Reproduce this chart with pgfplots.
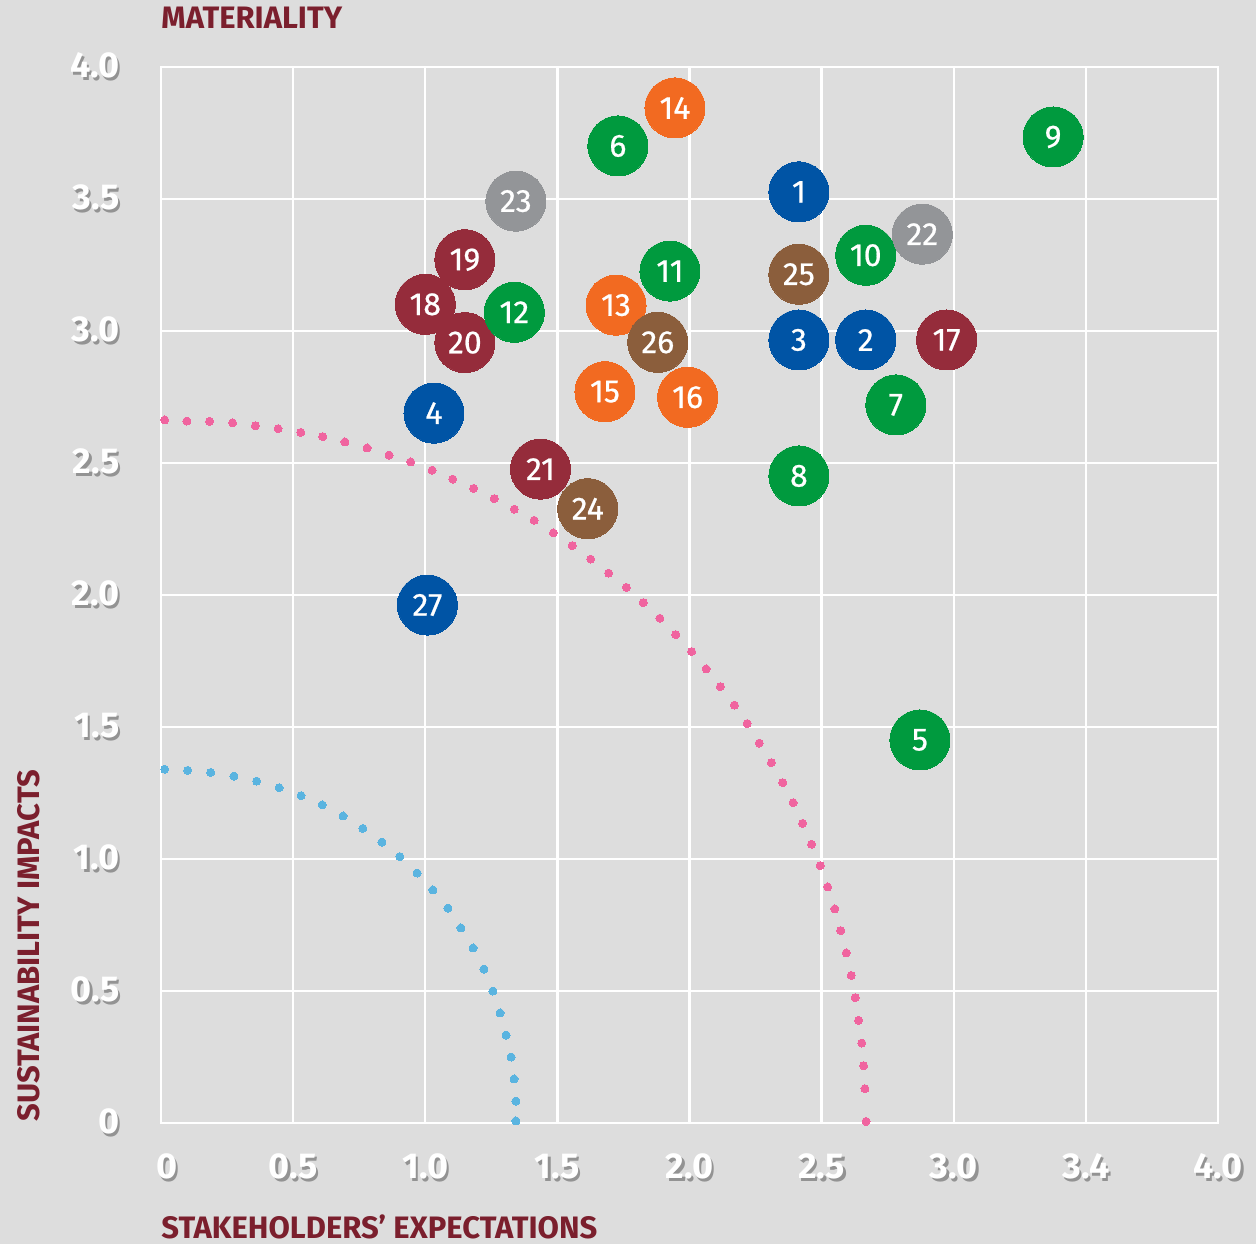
\documentclass[border=0pt]{standalone}
\usepackage{pgfplots}
\pgfplotsset{compat=1.18}
\usepackage{fontspec}
\setmainfont{Fira Sans}
\newfontfamily\medfont[FakeBold=0.6]{Fira Sans}
\definecolor{bg}{HTML}{DDDDDD}
\definecolor{tshadow}{HTML}{939393}
\definecolor{titlered}{HTML}{7B1F2D}
\definecolor{cgreen}{HTML}{009A3E}
\definecolor{cblue}{HTML}{0054A5}
\definecolor{corange}{HTML}{F26A21}
\definecolor{cgray}{HTML}{939598}
\definecolor{cred}{HTML}{952C3B}
\definecolor{cbrown}{HTML}{8B5E3C}
\definecolor{cpink}{HTML}{F0649F}
\definecolor{clblue}{HTML}{5AB4E0}
\newcommand\sh[1]{\makebox[0pt][l]{\kern1.2pt\raisebox{-1.4pt}{\textcolor{tshadow}{#1}}}\textcolor{white}{#1}}
\pgfplotsset{
  bubble/.style={color=#1, only marks, mark=*, mark size=15pt,
    mark options={draw=#1, fill=#1, line width=0pt},
    nodes near coords, point meta=explicit symbolic,
    every node near coord/.append style={anchor=center, text=white, inner sep=0pt,
      font=\medfont\fontsize{16}{16}\selectfont}},
  dots/.style={color=#1, only marks, mark=*, mark size=2pt, mark options={draw=#1, fill=#1, line width=0pt}}
}
\begin{document}
\begin{tikzpicture}
\fill[bg] (-80.5pt,-60.5pt) rectangle (547.5pt,561.5pt);
\useasboundingbox (-80.5pt,-60.5pt) rectangle (547.5pt,561.5pt);
\begin{axis}[
  name=ax, at={(0,0)}, anchor=south west,
  scale only axis, width=528.5pt, height=528pt,
  xmin=0, xmax=4, ymin=0, ymax=4,
  xtick={0,0.5,1,1.5,2,2.5,3,3.5,4},
  ytick={0,0.5,1,1.5,2,2.5,3,3.5,4},
  xticklabels={\hspace{6pt}\sh{0},\sh{0.5},\sh{1.0},\sh{1.5},\sh{2.0},\sh{2.5},\sh{3.0},\sh{3.4},\sh{4.0}},
  yticklabels={\sh{0},\sh{0.5},\sh{1.0},\sh{1.5},\sh{2.0},\sh{2.5},\sh{3.0},\sh{3.5},\sh{4.0}},
  ticklabel style={font=\fontsize{18}{18}\selectfont\bfseries, inner sep=0pt},
  xticklabel style={anchor=center, yshift=-22.5pt},
  yticklabel style={anchor=east, xshift=-20.5pt},
  major tick length=0pt,
  grid=major, major grid style={white, line width=1.2pt},
  axis line style={white, line width=1.2pt},
  clip=false,
]
% dotted curves
\addplot[dots=cpink] coordinates {
(0.014,2.663)(0.098,2.659)(0.184,2.658)(0.271,2.652)(0.357,2.641)(0.443,2.630)
(0.529,2.616)(0.612,2.600)(0.696,2.580)(0.780,2.557)(0.863,2.530)(0.945,2.504)
(1.026,2.473)(1.104,2.439)(1.183,2.404)(1.261,2.365)(1.337,2.325)(1.412,2.283)
(1.485,2.235)(1.556,2.187)(1.626,2.136)(1.694,2.083)(1.761,2.029)(1.825,1.971)
(1.888,1.912)(1.948,1.850)(2.008,1.786)(2.063,1.720)(2.117,1.653)(2.170,1.583)
(2.218,1.513)(2.264,1.439)(2.310,1.365)(2.353,1.289)(2.392,1.213)(2.428,1.135)
(2.462,1.056)(2.495,0.975)(2.523,0.894)(2.550,0.811)(2.572,0.729)(2.593,0.644)
(2.612,0.559)(2.627,0.475)(2.640,0.389)(2.652,0.303)(2.659,0.217)(2.664,0.130)
(2.668,0.006)};
\addplot[dots=clblue] coordinates {
(0.014,1.340)(0.101,1.336)(0.188,1.328)(0.276,1.314)(0.362,1.295)(0.447,1.270)
(0.530,1.240)(0.610,1.205)(0.689,1.163)(0.764,1.116)(0.836,1.064)(0.904,1.009)
(0.969,0.947)(1.029,0.883)(1.086,0.814)(1.135,0.739)(1.181,0.663)(1.222,0.583)
(1.256,0.500)(1.283,0.417)(1.306,0.333)(1.325,0.250)(1.336,0.167)(1.343,0.083)
(1.343,0.008)};
% bubbles
\addplot[bubble=cblue] table[meta=l] {
x y l
2.414 3.527 1
2.667 2.966 2
2.414 2.966 3
1.033 2.689 4
1.008 1.962 27
};
\addplot[bubble=cred] table[meta=l] {
x y l
2.973 2.966 17
1.000 3.101 18
1.150 3.270 19
1.150 2.956 20
1.436 2.477 21
};
\addplot[bubble=cgreen] table[meta=l] {
x y l
2.872 1.451 5
1.729 3.701 6
2.781 2.720 7
2.414 2.451 8
3.376 3.735 9
2.667 3.287 10
1.926 3.227 11
1.337 3.071 12
};
\addplot[bubble=corange] table[meta=l] {
x y l
1.722 3.098 13
1.945 3.845 14
1.680 2.770 15
1.993 2.749 16
};
\addplot[bubble=cgray] table[meta=l] {
x y l
2.881 3.367 22
1.343 3.492 23
};
\addplot[bubble=cbrown] table[meta=l] {
x y l
1.615 2.327 24
2.414 3.215 25
1.880 2.957 26
};
\end{axis}
\node[anchor=base west, inner sep=0pt, text=titlered, font=\fontsize{15.5}{15.5}\selectfont\bfseries]
  at (0pt,547pt) {MATERIALITY};
\node[anchor=base west, inner sep=0pt, text=titlered, font=\fontsize{15.5}{15.5}\selectfont\bfseries]
  at (0pt,-57.5pt) {STAKEHOLDERS’ EXPECTATIONS};
\node[anchor=base west, rotate=90, inner sep=0pt, text=titlered, font=\fontsize{15.5}{15.5}\selectfont\bfseries]
  at (-60.5pt,0.5pt) {SUSTAINABILITY IMPACTS};
\end{tikzpicture}
\end{document}
